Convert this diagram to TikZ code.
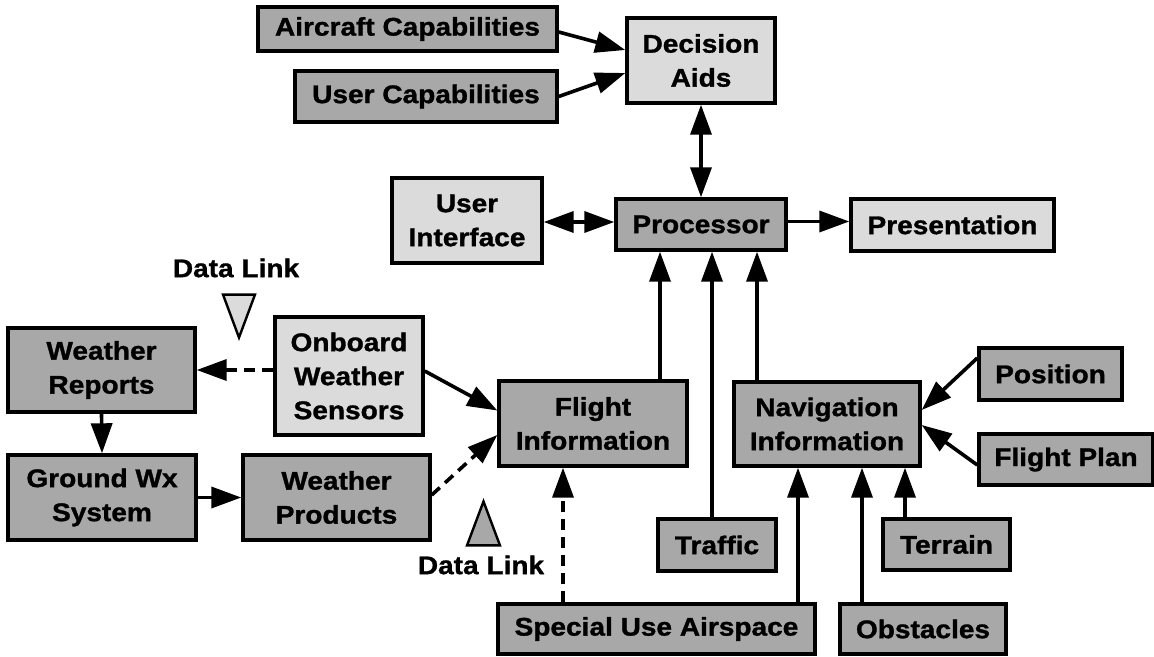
\documentclass[tikz,border=0pt]{standalone}
\usepackage{fontspec}
\setmainfont{Liberation Sans}[FakeStretch=1.1,BoldFeatures={FakeBold=1.2}]
\usetikzlibrary{arrows.meta}
\definecolor{boxdark}{gray}{0.66}
\definecolor{boxlight}{gray}{0.86}
\begin{document}
\begin{tikzpicture}[x=1pt,y=-1pt,
  txt/.style={font=\fontsize{25.5}{34}\selectfont\bfseries},
  box/.style={txt, draw, line width=3.4pt, fill=boxdark, align=center, inner sep=0pt},
  lbox/.style={box, fill=boxlight},
  tip/.style={},
  arr/.style={line width=3.6pt, -{Triangle[length=30pt,width=21pt]}},
  dbl/.style={line width=3.6pt, {Triangle[length=30pt,width=21pt]}-{Triangle[length=30pt,width=21pt]}},
  dsh/.style={arr, dash pattern=on 11pt off 7pt},
  lbl/.style={txt, inner sep=0pt},
  tri/.style={line width=2.4pt, line join=miter}]
\useasboundingbox (0,0) rectangle (1154,656);

% top row: decision aids and its inputs
\node[box, minimum width=299pt, minimum height=44pt] (ac) at (407.5,29) {Aircraft Capabilities};
\node[box, minimum width=262pt, minimum height=51pt] (uc) at (426,96.5) {User Capabilities};
\node[lbox, minimum width=148pt, minimum height=85pt] (da) at (701,60.5) {Decision\\Aids};

% processor row
\node[lbox, minimum width=150pt, minimum height=85pt] (ui) at (467,220.5) {User\\Interface};
\node[box, minimum width=170pt, minimum height=51pt] (proc) at (701,224.5) {Processor};
\node[lbox, minimum width=203pt, minimum height=52pt] (pres) at (952.5,225) {Presentation};

% weather chain
\node[box, minimum width=187pt, minimum height=84pt] (wr) at (101.5,370) {Weather\\Reports};
\node[lbox, minimum width=148pt, minimum height=118pt] (ows) at (349,376) {Onboard\\Weather\\Sensors};
\node[box, minimum width=188pt, minimum height=85pt] (gw) at (102,497.5) {Ground Wx\\System};
\node[box, minimum width=187pt, minimum height=85pt] (wp) at (336.5,497.5) {Weather\\Products};

% information blocks
\node[box, minimum width=188pt, minimum height=85pt] (fi) at (593,423.5) {Flight\\Information};
\node[box, minimum width=186pt, minimum height=84pt] (nav) at (827,424) {Navigation\\Information};
\node[box, minimum width=143pt, minimum height=52pt] (pos) at (1050.5,374) {Position};
\node[box, minimum width=174pt, minimum height=51pt] (fp) at (1066,459.5) {Flight Plan};
\node[box, minimum width=118pt, minimum height=52pt] (traf) at (717,545) {Traffic};
\node[box, minimum width=127pt, minimum height=51pt] (terr) at (946.5,544.5) {Terrain};
\node[box, minimum width=317pt, minimum height=50pt] (sua) at (656.5,629) {Special Use Airspace};
\node[box, minimum width=166pt, minimum height=50pt] (obs) at (923,629) {Obstacles};

% data link markers
\node[lbl] (dl1) at (236,268) {Data Link};
\filldraw[tri, fill=boxlight] ([xshift=-13pt,yshift=-17pt]dl1.south) -- ([xshift=19pt,yshift=-17pt]dl1.south)
  -- ([xshift=3pt,yshift=-60pt]dl1.south) -- cycle;
\node[lbl] (dl2) at (481,565) {Data Link};
\filldraw[tri, fill=boxdark] ([xshift=-14pt,yshift=10pt]dl2.north) -- ([xshift=19pt,yshift=10pt]dl2.north)
  -- ([xshift=2.5pt,yshift=54pt]dl2.north) -- cycle;

% tap points on processor and navigation blocks
\coordinate (p1) at ([xshift=-41pt]proc.south);
\coordinate (p2) at ([xshift=11pt]proc.south);
\coordinate (p3) at ([xshift=56pt]proc.south);
\coordinate (n1) at ([xshift=-29pt]nav.south);
\coordinate (n2) at ([xshift=35pt]nav.south);
\coordinate (n3) at ([xshift=78pt]nav.south);
\coordinate (f1) at ([xshift=-30pt]fi.south);

% connectors
\draw[arr] ([yshift=-3pt]ac.east) -- ([yshift=10.5pt]da.west);
\draw[arr] (uc.east) -- ([yshift=-12.5pt]da.west);
\draw[dbl] (da.south) -- (proc.north);
\draw[dbl] ([yshift=-1.5pt]ui.east) -- ([yshift=-1.5pt]ui.east -| proc.west);
\draw[arr] ([yshift=3pt]proc.east) -- ([yshift=3pt]proc.east -| pres.west);
\draw[arr] (fi.north -| p1) -- (p1);
\draw[arr] (traf.north -| p2) -- (p2);
\draw[arr] (nav.north -| p3) -- (p3);
\draw[dsh] (wr.east -| ows.west) -- (wr.east);
\draw[arr] ([yshift=5pt]ows.east) -- ([yshift=13pt]fi.west);
\draw[arr] (wr.south) -- (gw.north);
\draw[arr] (gw.east) -- (wp.west);
\draw[dsh] ([yshift=2.5pt]wp.east) -- ([yshift=-11.5pt]fi.west);
\draw[dsh] (sua.north -| f1) -- (f1);
\draw[arr] (sua.north -| n1) -- (n1);
\draw[arr] (obs.north -| n2) -- (n2);
\draw[arr] (terr.north -| n3) -- (n3);
\draw[arr] ([yshift=16pt]pos.west) -- ([yshift=14pt]nav.east);
\draw[arr] ([yshift=-5.5pt]fp.west) -- ([yshift=-1pt]nav.east);
\end{tikzpicture}
\end{document}
